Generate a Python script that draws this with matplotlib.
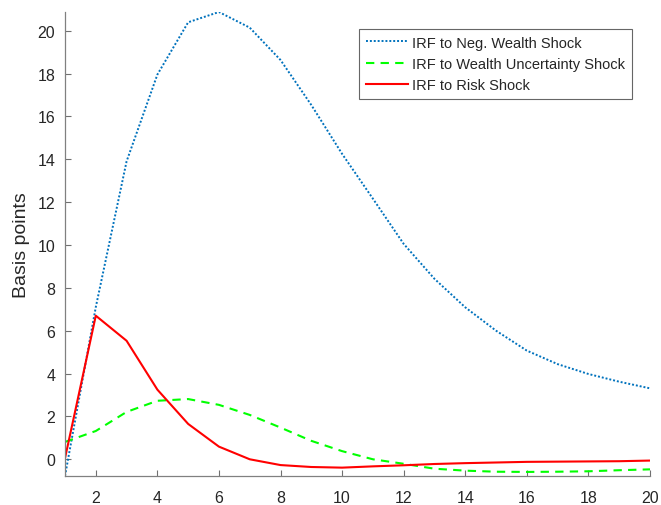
import matplotlib
matplotlib.use("Agg")
import matplotlib.pyplot as plt
import numpy as np

plt.rcParams['font.family'] = ['Liberation Sans', 'DejaVu Sans']

horizon = list(range(1, 21))

irf_neg_wealth = [-0.78, 7.10, 13.90, 17.95, 20.39, 20.87, 20.14, 18.63, 16.53, 14.25,
                  12.16, 10.05, 8.42, 7.09, 6.00, 5.07, 4.44, 3.98, 3.62, 3.31]
irf_wealth_unc = [0.81, 1.32, 2.21, 2.73, 2.81, 2.54, 2.07, 1.48, 0.86, 0.38,
                  0.00, -0.21, -0.44, -0.53, -0.58, -0.59, -0.58, -0.56, -0.51, -0.47]
irf_risk = [0.05, 6.70, 5.53, 3.25, 1.65, 0.59, 0.00, -0.27, -0.36, -0.39,
            -0.33, -0.28, -0.22, -0.18, -0.15, -0.12, -0.11, -0.10, -0.09, -0.06]

labels = ["IRF to Neg. Wealth Shock",
          "IRF to Wealth Uncertainty Shock",
          "IRF to Risk Shock"]

xticks = list(range(2, 21, 2))
yticks = list(range(0, 21, 2))

fig = plt.figure(figsize=(6.61, 5.06), dpi=100)
ax = fig.add_axes([65 / 661, 1 - 477 / 506, (650 - 65) / 661, (477 - 13) / 506])

ax.plot(horizon, irf_neg_wealth, color='#0072BD', lw=1.4, linestyle=(0, (1, 1)),
        label=labels[0])
ax.plot(horizon, irf_wealth_unc, color='#00FF00', lw=1.5, linestyle=(0, (4, 3)),
        label=labels[1])
ax.plot(horizon, irf_risk, color='#FF0000', lw=1.5, linestyle='-', label=labels[2])

all_vals = np.concatenate([irf_neg_wealth, irf_wealth_unc, irf_risk])
ax.set_xlim(horizon[0], horizon[-1])
ax.set_ylim(all_vals.min(), all_vals.max())

ax.set_xticks(xticks)
ax.set_yticks(yticks)
ax.tick_params(direction='in', length=4.5, width=0.8, colors='#707070',
               labelcolor='#262626', labelsize=11.5)
ax.tick_params(axis='x', pad=10)
ax.tick_params(axis='y', pad=7)

for side in ('top', 'right'):
    ax.spines[side].set_visible(False)
for side in ('left', 'bottom'):
    ax.spines[side].set_color('#808080')
    ax.spines[side].set_linewidth(0.9)

ax.set_ylabel("Basis points", fontsize=14, color='#262626', labelpad=5)

leg = ax.legend(loc='upper right', bbox_to_anchor=(632 / 661, 1 - 30 / 506),
                bbox_transform=fig.transFigure, borderaxespad=0, fontsize=10.5,
                frameon=True, fancybox=False, handlelength=2.9, handletextpad=0.3,
                labelspacing=0.5, borderpad=0.45)
leg.get_frame().set_edgecolor('#404040')
leg.get_frame().set_linewidth(0.8)
for t in leg.get_texts():
    t.set_color('#262626')

fig.savefig("out.png", dpi=100)
